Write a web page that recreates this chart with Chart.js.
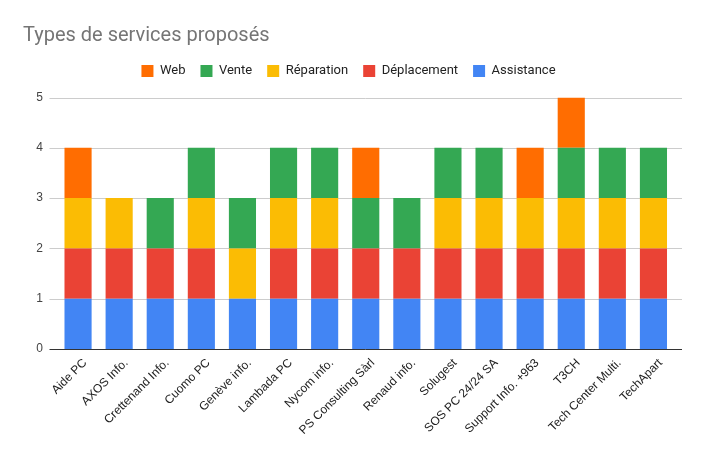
<!DOCTYPE html>
<html>
<head>
<meta charset="utf-8">
<script src="https://cdn.jsdelivr.net/npm/chart.js@4"></script>
<style>
  html, body { margin: 0; padding: 0; background: #fff; }
  #wrap { width: 704px; height: 456px; position: relative; }
</style>
</head>
<body>
<div id="wrap"><canvas id="servicesChart" width="704" height="456"></canvas></div>
<script>
// Data
const categories = ["Aide PC", "AXOS Info.", "Crettenand Info.", "Cuomo PC", "Genève info.", "Lambada PC",
  "Nycom info.", "PS Consulting Sàrl", "Renaud info.", "Solugest", "SOS PC 24/24 SA",
  "Support Info. +963", "T3CH", "Tech Center Multi.", "TechApart"];
const assistance  = [1, 1, 1, 1, 1, 1, 1, 1, 1, 1, 1, 1, 1, 1, 1];
const deplacement = [1, 1, 1, 1, 0, 1, 1, 1, 1, 1, 1, 1, 1, 1, 1];
const reparation  = [1, 1, 0, 1, 1, 1, 1, 0, 0, 1, 1, 1, 1, 1, 1];
const vente       = [0, 0, 1, 1, 1, 1, 1, 1, 1, 1, 1, 0, 1, 1, 1];
const web         = [1, 0, 0, 0, 0, 0, 0, 1, 0, 0, 0, 1, 1, 0, 0];
const yTicks = [0, 1, 2, 3, 4, 5];

// horizontal grid lines that run a bit past the bars, like the original
const gridPlugin = {
  id: "gridLines",
  beforeDatasetsDraw(chart) {
    const { ctx, chartArea, scales } = chart;
    const y = scales.y;
    ctx.save();
    y.ticks.forEach((t) => {
      const py = Math.round(y.getPixelForValue(t.value)) + 0.5;
      ctx.beginPath();
      ctx.strokeStyle = t.value === 0 ? "#333333" : "#cccccc";
      ctx.lineWidth = 1;
      ctx.moveTo(chartArea.left - 8, py);
      ctx.lineTo(chartArea.right + 8, py);
      ctx.stroke();
    });
    ctx.restore();
  }
};

// extra room under the legend
const legendGap = {
  id: "legendGap",
  beforeInit(chart) {
    const fit = chart.legend.fit;
    chart.legend.fit = function () {
      fit.call(this);
      this.height += 10;
    };
  }
};

const ctx = document.getElementById("servicesChart").getContext("2d");
new Chart(ctx, {
  type: "bar",
  data: {
    labels: categories,
    datasets: [
      { label: "Assistance", data: assistance, backgroundColor: "#4285f4" },
      { label: "Déplacement", data: deplacement, backgroundColor: "#ea4335" },
      { label: "Réparation", data: reparation, backgroundColor: "#fbbc04" },
      { label: "Vente", data: vente, backgroundColor: "#34a853" },
      { label: "Web", data: web, backgroundColor: "#ff6d01" }
    ]
  },
  options: {
    responsive: false,
    animation: false,
    devicePixelRatio: 1,
    datasets: { bar: { categoryPercentage: 1, barPercentage: 0.66 } },
    layout: { padding: { left: 23, right: 30, top: 24, bottom: 0 } },
    scales: {
      x: {
        stacked: true,
        grid: { display: false, drawTicks: false },
        border: { display: false },
        ticks: {
          minRotation: 45, maxRotation: 45, autoSkip: false, padding: 7, labelOffset: 7,
          color: "#222222", font: { family: "Liberation Sans", size: 12 }
        },
        afterFit(scale) { scale.height = 107; }
      },
      y: {
        stacked: true,
        min: 0, max: 5,
        grid: { display: false, drawTicks: false },
        border: { display: false },
        afterBuildTicks(scale) { scale.ticks = yTicks.map((v) => ({ value: v })); },
        ticks: { padding: 14.5, color: "#444444", font: { family: "Liberation Sans", size: 12 } },
        afterFit(scale) { scale.width = 34.5; }
      }
    },
    plugins: {
      title: {
        display: true, text: "Types de services proposés", align: "start",
        color: "#757575", font: { family: "Roboto", size: 20, weight: "normal" },
        padding: { top: 0, bottom: 1.5 }
      },
      legend: {
        reverse: true,
        labels: {
          boxWidth: 12, boxHeight: 12, padding: 15, color: "#222222",
          font: { family: "Roboto", size: 13 }
        }
      },
      tooltip: { enabled: false }
    }
  },
  plugins: [gridPlugin, legendGap]
});
</script>
</body>
</html>
